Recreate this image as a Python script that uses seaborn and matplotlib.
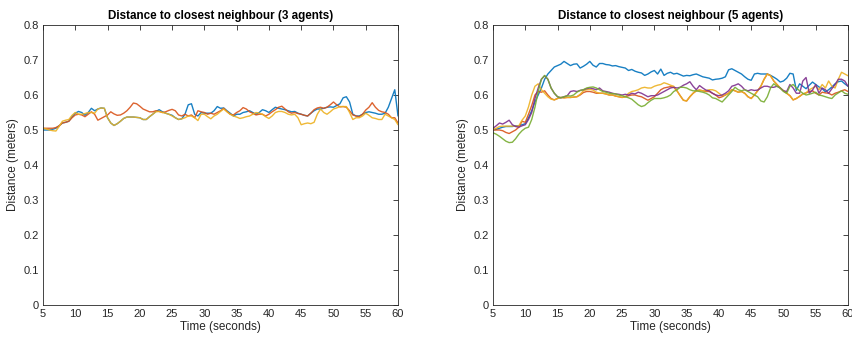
import numpy as np
import pandas as pd
import matplotlib
matplotlib.use("Agg")
import matplotlib.pyplot as plt
import seaborn as sns

# time grid (seconds), 0.5 s steps from 5 to 60
t = np.arange(5, 60.01, 0.5)

# 3 agents
blue3 = [
    .500, .500, .500, .502, .505, .512, .520, .522, .525, .538,
    .548, .553, .550, .542, .550, .562, .555, .560, .563, .562,
    .535, .520, .513, .518, .525, .533, .537, .537, .537, .536,
    .535, .530, .530, .538, .545, .553, .558, .552, .548, .545,
    .542, .535, .530, .532, .545, .572, .575, .545, .540, .550,
    .548, .548, .548, .555, .567, .562, .563, .555, .548, .540,
    .545, .545, .550, .552, .555, .550, .545, .550, .558, .555,
    .550, .558, .565, .562, .560, .558, .555, .552, .553, .548,
    .545, .542, .540, .548, .555, .560, .560, .562, .565, .566,
    .565, .570, .575, .592, .595, .580, .545, .540, .540, .545,
    .550, .552, .550, .548, .545, .545, .548, .565, .590, .615,
    .540]
red3 = [
    .505, .505, .505, .505, .507, .512, .520, .522, .525, .535,
    .543, .545, .543, .538, .545, .552, .545, .528, .533, .538,
    .543, .552, .546, .542, .543, .548, .555, .565, .577, .575,
    .568, .560, .556, .552, .552, .555, .553, .550, .552, .556,
    .559, .555, .543, .540, .545, .540, .543, .535, .555, .552,
    .550, .545, .548, .545, .550, .555, .562, .553, .545, .543,
    .550, .555, .564, .560, .552, .548, .543, .545, .545, .540,
    .545, .552, .558, .565, .568, .560, .552, .548, .550, .547,
    .545, .542, .540, .548, .558, .563, .565, .562, .565, .572,
    .580, .572, .566, .567, .565, .555, .543, .540, .538, .545,
    .557, .565, .578, .565, .556, .552, .550, .545, .535, .535,
    .520]
yellow3 = [
    .505, .503, .500, .498, .497, .510, .525, .528, .530, .542,
    .550, .545, .545, .547, .550, .550, .548, .560, .563, .562,
    .535, .520, .513, .518, .525, .533, .537, .537, .537, .536,
    .535, .530, .530, .538, .545, .552, .553, .550, .548, .545,
    .540, .535, .530, .532, .535, .540, .540, .535, .527, .545,
    .545, .538, .532, .540, .545, .553, .560, .552, .545, .540,
    .537, .533, .535, .538, .540, .545, .550, .548, .545, .538,
    .533, .540, .550, .553, .553, .550, .545, .543, .545, .535,
    .515, .518, .520, .518, .522, .545, .560, .550, .545, .552,
    .560, .563, .567, .567, .567, .550, .530, .535, .535, .540,
    .548, .542, .535, .533, .530, .530, .545, .540, .535, .530,
    .515]

# 5 agents
blue5 = [
    .500, .502, .505, .508, .510, .510, .510, .512, .512, .515,
    .518, .535, .555, .580, .600, .620, .645, .660, .670, .680,
    .684, .688, .696, .690, .684, .688, .689, .677, .682, .688,
    .696, .685, .680, .690, .690, .687, .686, .683, .684, .681,
    .679, .677, .670, .673, .668, .665, .663, .656, .660, .666,
    .670, .660, .674, .656, .662, .665, .660, .662, .658, .654,
    .656, .655, .658, .660, .656, .652, .650, .648, .643, .645,
    .646, .648, .652, .672, .675, .670, .665, .660, .652, .645,
    .642, .660, .662, .660, .660, .660, .656, .651, .645, .637,
    .640, .648, .662, .660, .613, .632, .625, .618, .628, .637,
    .630, .623, .618, .609, .615, .623, .632, .638, .640, .632,
    .625]
red5 = [
    .500, .500, .500, .498, .493, .490, .495, .500, .508, .525,
    .522, .545, .570, .600, .610, .608, .612, .600, .590, .586,
    .590, .593, .592, .593, .593, .594, .595, .600, .607, .610,
    .610, .608, .605, .605, .605, .603, .600, .600, .597, .595,
    .593, .595, .598, .600, .600, .597, .595, .590, .585, .590,
    .595, .605, .615, .620, .622, .624, .622, .612, .598, .585,
    .583, .595, .605, .612, .614, .612, .610, .610, .605, .600,
    .592, .595, .600, .605, .615, .612, .608, .610, .605, .595,
    .590, .600, .612, .625, .645, .660, .655, .640, .630, .620,
    .612, .605, .598, .586, .590, .596, .603, .606, .610, .612,
    .605, .600, .608, .606, .605, .600, .605, .608, .612, .615,
    .610]
yellow5 = [
    .502, .505, .510, .511, .511, .511, .511, .511, .512, .528,
    .540, .566, .600, .625, .632, .615, .605, .595, .588, .586,
    .590, .593, .592, .593, .593, .594, .595, .602, .612, .615,
    .616, .614, .608, .605, .605, .603, .600, .600, .597, .595,
    .593, .595, .605, .610, .612, .615, .620, .622, .620, .620,
    .625, .628, .630, .635, .632, .628, .625, .612, .598, .585,
    .583, .595, .605, .612, .614, .612, .612, .615, .615, .612,
    .605, .598, .600, .605, .615, .612, .608, .610, .605, .595,
    .590, .600, .612, .625, .645, .660, .655, .640, .630, .620,
    .612, .605, .598, .586, .590, .596, .603, .606, .615, .620,
    .625, .615, .630, .620, .640, .625, .620, .645, .665, .660,
    .655]
purple5 = [
    .505, .512, .520, .517, .522, .528, .515, .510, .508, .512,
    .515, .530, .550, .590, .620, .645, .655, .645, .620, .605,
    .595, .592, .595, .598, .610, .612, .610, .613, .615, .618,
    .620, .618, .615, .620, .612, .610, .608, .605, .603, .602,
    .600, .602, .600, .605, .603, .608, .605, .600, .595, .598,
    .598, .600, .605, .610, .615, .620, .622, .620, .622, .628,
    .632, .638, .625, .615, .627, .620, .614, .612, .605, .600,
    .598, .600, .605, .612, .625, .628, .632, .625, .615, .612,
    .615, .613, .614, .620, .625, .625, .622, .622, .625, .620,
    .612, .610, .630, .620, .605, .605, .640, .650, .605, .614,
    .630, .605, .620, .615, .605, .618, .630, .645, .645, .640,
    .625]
green5 = [
    .492, .488, .482, .475, .468, .464, .465, .475, .488, .498,
    .505, .508, .530, .565, .610, .645, .656, .645, .620, .605,
    .595, .592, .595, .598, .597, .600, .608, .613, .615, .620,
    .622, .623, .620, .615, .610, .608, .605, .604, .603, .600,
    .598, .595, .592, .588, .580, .572, .567, .570, .578, .585,
    .590, .590, .590, .592, .595, .600, .610, .615, .622, .622,
    .620, .615, .612, .612, .610, .608, .605, .600, .592, .590,
    .585, .580, .590, .600, .610, .622, .615, .612, .615, .610,
    .605, .600, .595, .583, .580, .595, .620, .632, .625, .620,
    .610, .605, .625, .630, .620, .612, .605, .600, .602, .605,
    .608, .600, .598, .595, .592, .590, .600, .606, .612, .605,
    .602]

titles = ["Distance to closest neighbour (3 agents)",
          "Distance to closest neighbour (5 agents)"]
colors = ["#0072BD", "#D95319", "#EDB120", "#7E2F8E", "#77AC30"]

panel3 = {"a1": blue3, "a2": red3, "a3": yellow3}
panel5 = {"a1": blue5, "a2": red5, "a3": yellow5, "a4": purple5, "a5": green5}


def long_form(panel):
    frames = []
    for name, vals in panel.items():
        frames.append(pd.DataFrame({"time": t, "dist": vals, "agent": name}))
    return pd.concat(frames, ignore_index=True)


sns.set_style("white")
plt.rcParams["font.family"] = ["Liberation Sans", "DejaVu Sans"]
ink = "#262626"

fig = plt.figure(figsize=(8.52, 3.42), dpi=100)
axes = [fig.add_axes([43 / 852, 37 / 342, 355 / 852, 280 / 342]),
        fig.add_axes([493 / 852, 37 / 342, 355 / 852, 280 / 342])]

for ax, panel, title in zip(axes, [panel3, panel5], titles):
    df = long_form(panel)
    sns.lineplot(data=df, x="time", y="dist", hue="agent",
                 palette=colors[:len(panel)], linewidth=1.0, alpha=0.9,
                 legend=False, ax=ax)
    ax.set_xlim(5, 60)
    ax.set_ylim(0, 0.8)
    ax.set_xticks(np.arange(5, 61, 5))
    ax.set_yticks(np.arange(0, 0.81, 0.1))
    ax.set_yticklabels(["0"] + [f"{v:.1f}" for v in np.arange(0.1, 0.81, 0.1)])
    ax.tick_params(direction="in", top=True, right=True, length=3.5,
                   width=0.6, colors=ink, labelsize=8, pad=3)
    for s in ax.spines.values():
        s.set_color(ink)
        s.set_linewidth(0.6)
    ax.set_xlabel("Time (seconds)", fontsize=8.5, color=ink, labelpad=1)
    ax.set_ylabel("Distance (meters)", fontsize=8.5, color=ink, labelpad=3)
    ax.set_title(title, fontsize=8.4, fontweight="bold", color="black", pad=4)

fig.savefig("out.png", dpi=100)
